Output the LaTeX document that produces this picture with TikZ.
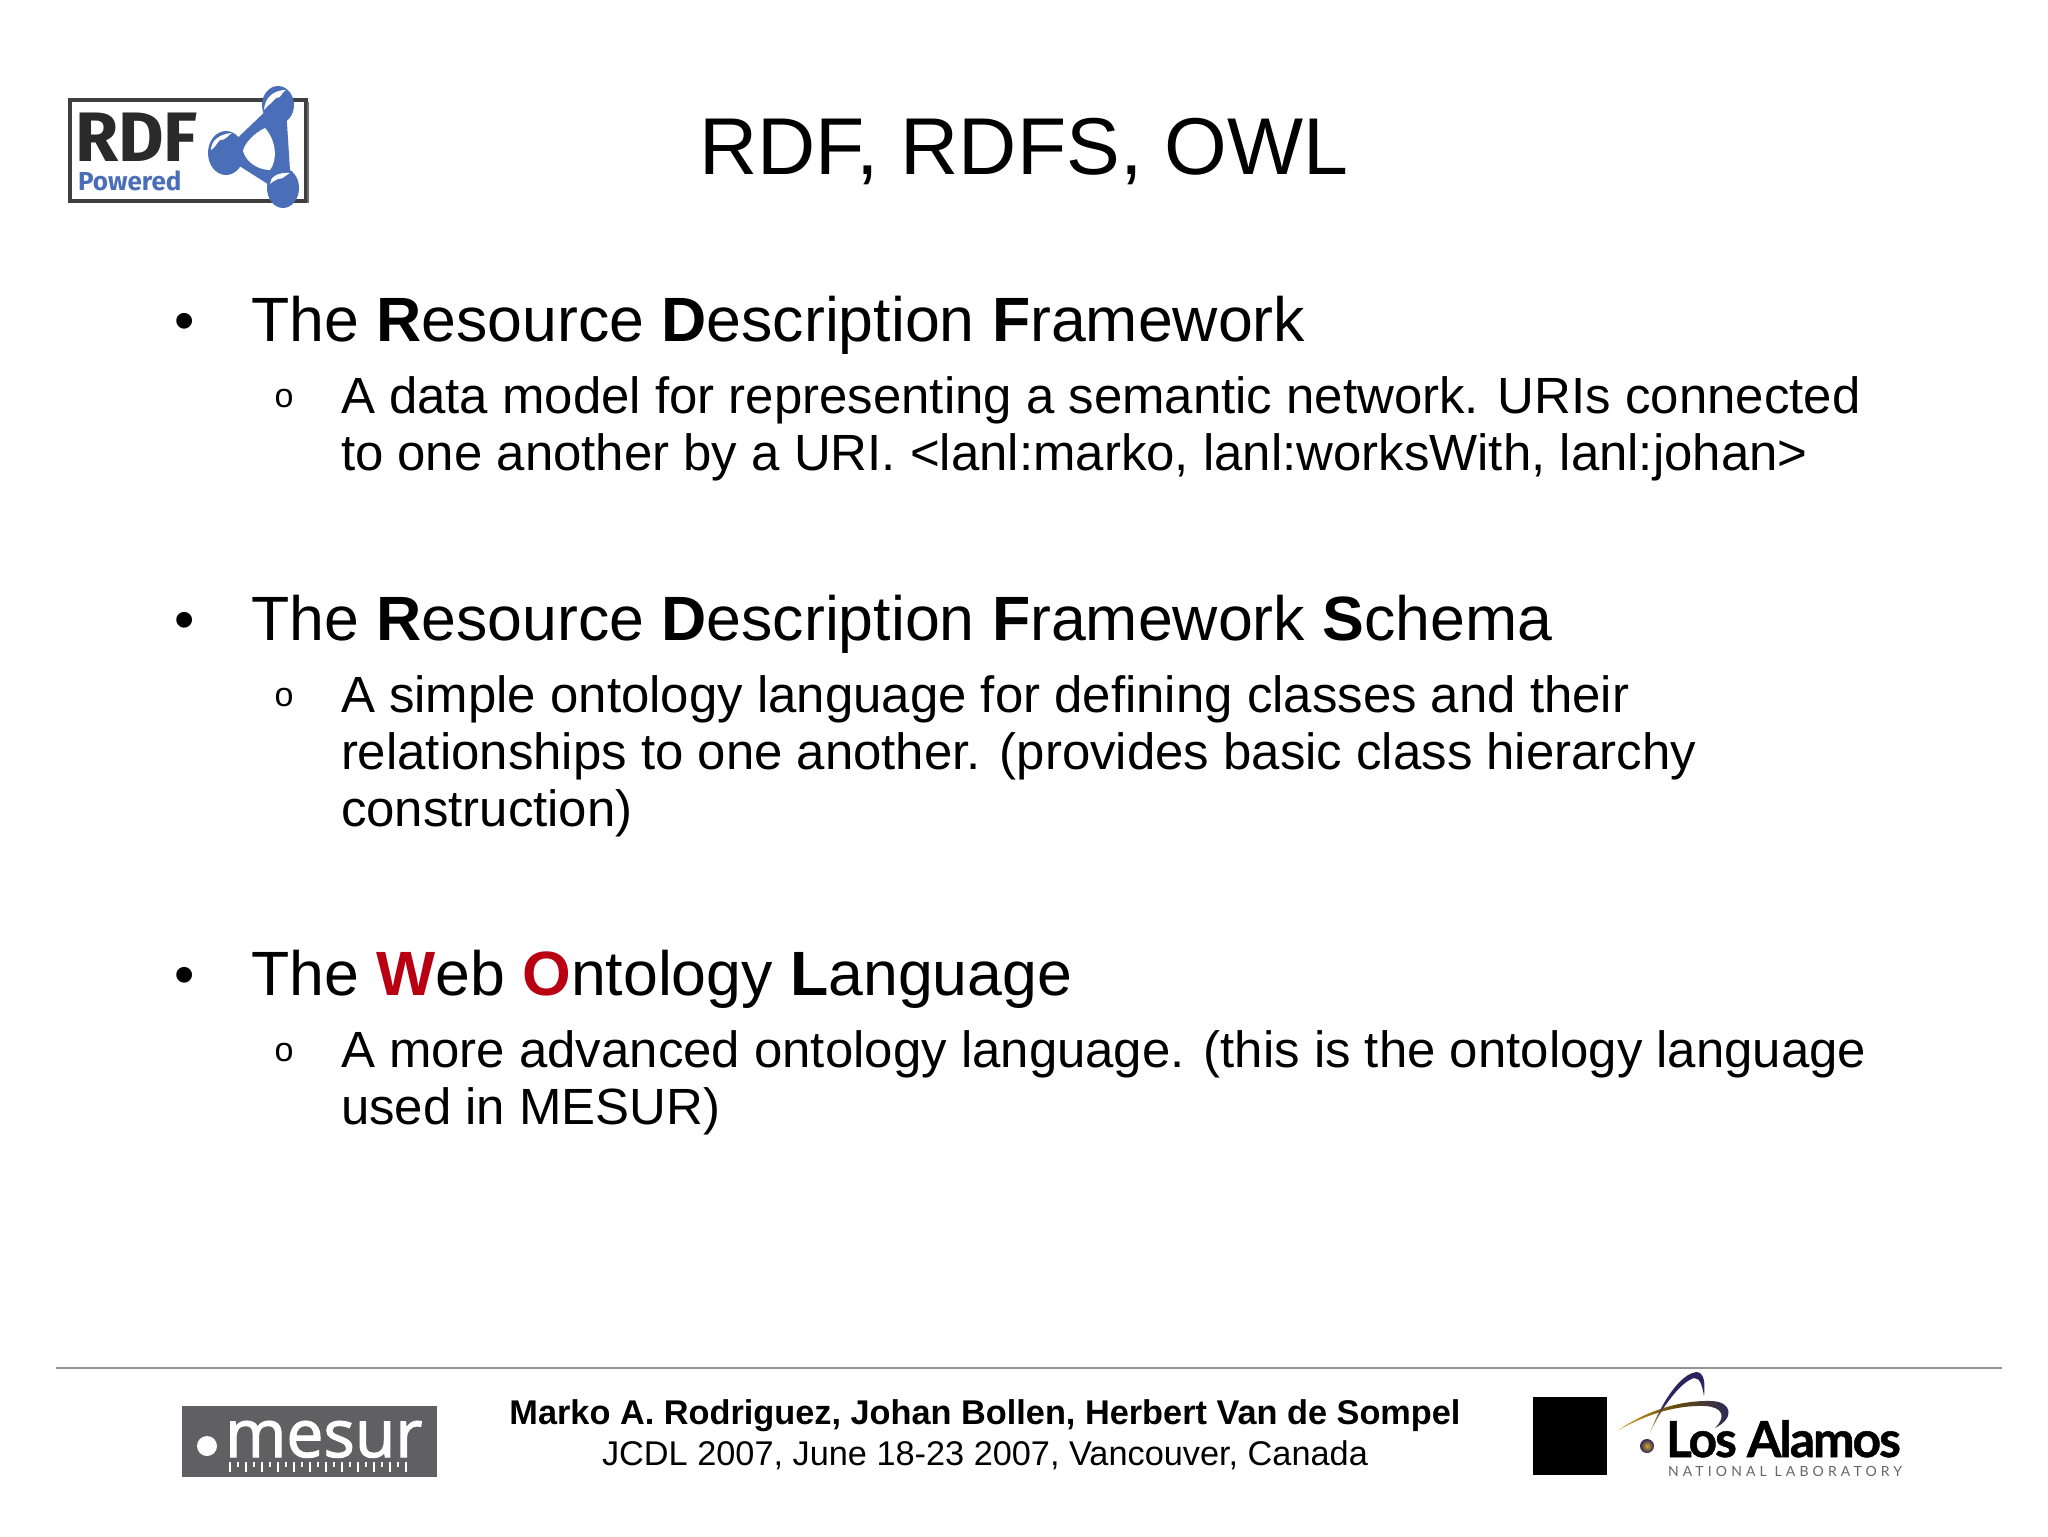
\documentclass[tikz,border=0pt]{standalone}
\usepackage{fontspec}
\setmainfont{Liberation Sans}
\newfontfamily\rdffont{Fira Sans}
\newfontfamily\mesurfont[FakeBold=1.8]{Open Sans}
\newfontfamily\lanlfont[LetterSpace=-4,BoldFeatures={FakeBold=1,LetterSpace=-4}]{Lato}
\newfontfamily\natlfont[LetterSpace=29.5]{Lato}
\definecolor{owlred}{HTML}{B80012}
\definecolor{rdfblue}{HTML}{4A6FB8}
\definecolor{rdfdark}{HTML}{2A2A2A}
\definecolor{mesurgray}{HTML}{605F61}
\definecolor{ballgold}{HTML}{D8A520}
\definecolor{ballnavy}{HTML}{2A2560}
\tikzset{
  every node/.style={inner sep=0pt,outer sep=0pt,anchor=base west},
  titletext/.style={font=\fontsize{40.3}{46}\selectfont,anchor=base},
  headtext/.style={font=\fontsize{31.3}{36}\selectfont},
  subtext/.style={font=\fontsize{25.47}{30}\selectfont},
  foottext/.style={font=\fontsize{17.15}{22}\selectfont,anchor=base},
  bulletmark/.style={font=\fontsize{29}{36}\selectfont,anchor=base},
  submark/.style={font=\fontsize{17}{22}\selectfont,anchor=base},
}
\newcommand{\kw}[1]{\textbf{#1}}
\newcommand{\kr}[1]{\textcolor{owlred}{\textbf{#1}}}
\begin{document}
\begin{tikzpicture}[x=0.5pt,y=-0.5pt]
\useasboundingbox (0,0) rectangle (2048,1536);
\fill[white] (0,0) rectangle (2048,1536);
% RDF logo
\draw[rdfdark!90,line width=2pt] (70,100.5) -- (306,100.5) -- (306,201) -- (70,201) -- cycle;
\draw[rdfdark!70,line width=1pt] (308,102) -- (308,203);
\node[font=\rdffont\bfseries\fontsize{35}{36}\selectfont,text=rdfdark] (rdfword) at (75,162) {RDF};
\node[font=\rdffont\bfseries\fontsize{13}{16}\selectfont,text=rdfblue] (rdfpow) at (78,190) {Powered};
\begin{scope}[rdfblue]
\fill[white] (258,104) rectangle (303,196);
\draw[line width=7pt,line join=round,fill=rdfblue] (279,108) -- (232,153) -- (284,186) -- cycle;
\fill (278,105) ellipse (16 and 19);
\fill (226,153) ellipse (18 and 22);
\fill (283,188) ellipse (16 and 20);
\end{scope}
\fill[white] (265,128) .. controls (254,133) and (244,144) .. (243,151) .. controls (246,162) and (258,170) .. (270,170) .. controls (278,160) and (276,140) .. (265,128) -- cycle;
\fill[white] (264,110) .. controls (265,97) and (274,90) .. (286,90) .. controls (280,94) and (282,98) .. (276,98) .. controls (272,103) and (268,105) .. (264,110) -- cycle;
\fill[white] (211,150) .. controls (211,141) and (219,134) .. (232,133) .. controls (226,137) and (226,140) .. (220,140) .. controls (216,144) and (215,148) .. (211,150) -- cycle;
\fill[white] (270,184) .. controls (270,177) and (278,172) .. (290,173) .. controls (284,176) and (284,179) .. (278,179) .. controls (274,181) and (272,182) .. (270,184) -- cycle;
% title and body
\node[titletext] (title) at (1024,174) {RDF, RDFS, OWL};
\node[bulletmark] (b1) at (185,340) {•};
\node[headtext] (h1) at (251,341) {The \kw{R}esource \kw{D}escription \kw{F}ramework};
\node[submark] (s1) at (284,407) {o};
\node[subtext] (t1a) at (341,413) {A data model for representing a semantic network. URIs connected};
\node[subtext] (t1b) at (341,470) {to one another by a URI. <lanl:marko, lanl:worksWith, lanl:johan>};
\node[bulletmark] (b2) at (185,639) {•};
\node[headtext] (h2) at (251,640) {The \kw{R}esource \kw{D}escription \kw{F}ramework \kw{S}chema};
\node[submark] (s2) at (284,706) {o};
\node[subtext] (t2a) at (341,712) {A simple ontology language for defining classes and their};
\node[subtext] (t2b) at (341,769) {relationships to one another. (provides basic class hierarchy};
\node[subtext] (t2c) at (341,826.5) {construction)};
\node[bulletmark] (b3) at (185,994) {•};
\node[headtext] (h3) at (251,995) {The \kr{W}eb \kr{O}ntology \kw{L}anguage};
\node[submark] (s3) at (284,1061) {o};
\node[subtext] (t3a) at (341,1067) {A more advanced ontology language. (this is the ontology language};
\node[subtext] (t3b) at (341,1124.5) {used in MESUR)};
% footer
\coordinate (ruleL) at (56,1368);
\coordinate (ruleR) at (2002,1368);
\draw[gray!85,line width=0.6pt] (ruleL) -- (ruleR);
\node[foottext] (f1) at (985,1424) {\textbf{Marko A. Rodriguez, Johan Bollen, Herbert Van de Sompel}};
\node[foottext] (f2) at (985,1465) {JCDL 2007, June 18-23 2007, Vancouver, Canada};
% mesur logo
\fill[mesurgray] (182,1406) rectangle (437,1477);
\fill[white] (207,1446) circle (10);
\node[font=\mesurfont\fontsize{33}{35}\selectfont,text=white] (mesurword) at (225,1457) {mesur};
\foreach \i in {0,...,22}{
  \pgfmathsetmacro{\xx}{229.5+\i*8}
  \pgfmathsetmacro{\yy}{mod(\i,2)==0 ? 1472 : 1467}
  \draw[white,line width=1pt] (\xx,1462) -- (\xx,\yy);
}
% Los Alamos logo
\fill[black] (1533,1397) rectangle (1607,1475);
\shade[left color=ballgold,right color=ballnavy,middle color=black!55!ballgold]
  (1617,1431) .. controls (1650,1408) and (1685,1400) .. (1712,1401)
  .. controls (1732,1402) and (1735,1418) .. (1715,1428)
  .. controls (1727,1416) and (1722,1407) .. (1705,1406)
  .. controls (1680,1405) and (1650,1412) .. (1617,1431) -- cycle;
\shade[bottom color=ballgold,top color=ballnavy,middle color=ballnavy]
  (1650,1433) .. controls (1660,1405) and (1680,1373) .. (1697,1372)
  .. controls (1705,1373) and (1705,1385) .. (1704,1396)
  .. controls (1702,1385) and (1700,1378) .. (1694,1378)
  .. controls (1680,1382) and (1660,1410) .. (1650,1433) -- cycle;
\shade[inner color=ballgold,outer color=ballnavy] (1647,1446) circle (7);
\node[font=\lanlfont\bfseries\fontsize{24.8}{24}\selectfont,text=black] (lanlword) at (1666,1457) {Los Alamos};
\node[font=\natlfont\fontsize{7}{8}\selectfont,text=black!60] (natl) at (1668,1476) {NATIONAL LABORATORY};
\end{tikzpicture}
\end{document}
